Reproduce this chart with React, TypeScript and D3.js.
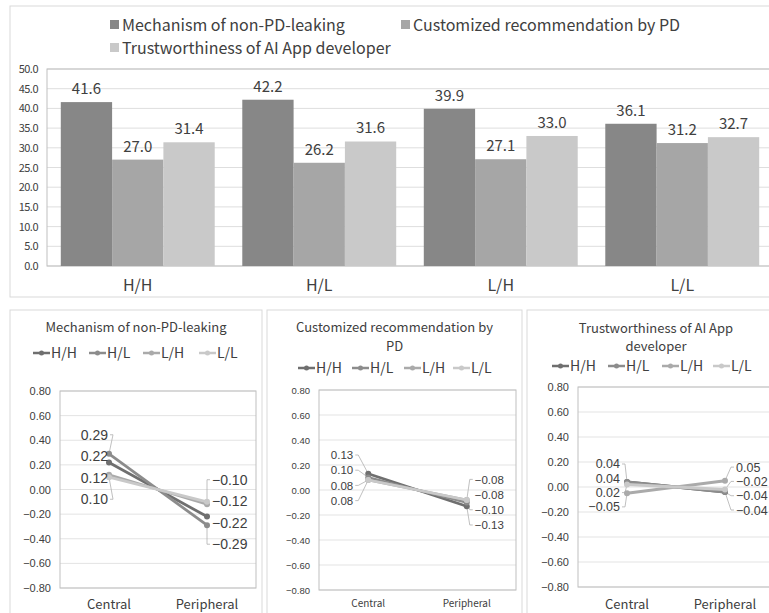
import React from "react";
import * as d3 from "d3";

// ---------- data ----------
const categories = ["H/H", "H/L", "L/H", "L/L"];
const barSeriesNames = [
  "Mechanism of non-PD-leaking",
  "Customized recommendation by PD",
  "Trustworthiness of AI App developer",
];
const mechanismBars = [41.6, 42.2, 39.9, 36.1];
const customizedBars = [27.0, 26.2, 27.1, 31.2];
const trustBars = [31.4, 31.6, 33.0, 32.7];
const barTicks = [0, 5, 10, 15, 20, 25, 30, 35, 40, 45, 50];

const routes = ["Central", "Peripheral"];
const lineSeriesNames = ["H/H", "H/L", "L/H", "L/L"];
const mechHH = [0.22, -0.22];
const mechHL = [0.29, -0.29];
const mechLH = [0.12, -0.12];
const mechLL = [0.1, -0.1];
const custHH = [0.13, -0.13];
const custHL = [0.1, -0.1];
const custLH = [0.08, -0.08];
const custLL = [0.08, -0.08];
const trustHH = [0.04, -0.04];
const trustHL = [0.04, -0.04];
const trustLH = [-0.05, 0.05];
const trustLL = [0.02, -0.02];
const lineTicks = [-0.8, -0.6, -0.4, -0.2, 0, 0.2, 0.4, 0.6, 0.8];
const panelTitles = [
  ["Mechanism of non-PD-leaking"],
  ["Customized recommendation by", "PD"],
  ["Trustworthiness of AI App", "developer"],
];

// ---------- styles ----------
const barColors = ["#878787", "#a6a6a6", "#c9c9c9"];
const lineColors = ["#6f6f6f", "#8c8c8c", "#aaaaaa", "#c9c9c9"];
const textColor = "#404040";
const gothic = "'Noto Sans CJK JP', 'Noto Sans', sans-serif";
const numFont = "'Liberation Sans', Arial, sans-serif";

function BarChart() {
  const left = 47, right = 773, top = 69, bottom = 266;
  const x0 = d3.scaleBand<string>().domain(categories).range([left, right]).paddingInner(0.152).paddingOuter(0.076);
  const seriesValues = [mechanismBars, customizedBars, trustBars];
  const x1 = d3.scaleBand<number>().domain([0, 1, 2]).range([0, x0.bandwidth()]);
  const y = d3.scaleLinear().domain([0, 50]).range([bottom, top]);
  return (
    <g>
      <rect x={10} y={6} width={775} height={291} fill="#fff" stroke="#d9d9d9" />
      {barSeriesNames.map((n, i) => {
        const lx = i === 1 ? 401 : 110;
        const ly = i === 2 ? 48 : 25;
        return (
          <g key={n}>
            <rect x={lx} y={ly - 5} width={9} height={9} fill={barColors[i]} />
            <text x={lx + 12} y={ly + 6} fontSize={16} fontFamily={gothic} fill={textColor}>{n}</text>
          </g>
        );
      })}
      {barTicks.map((t) => (
        <g key={t}>
          <line x1={left} x2={right} y1={y(t)} y2={y(t)} stroke="#dedede" />
          <text x={38} y={y(t) + 4} textAnchor="end" fontSize={11} fontFamily={gothic} fill={textColor} letterSpacing={-0.5}>{t.toFixed(1)}</text>
        </g>
      ))}
      <rect x={left} y={top} width={right - left} height={bottom - top} fill="none" stroke="#bfbfbf" />
      {categories.map((c, ci) => (
        <g key={c} transform={`translate(${x0(c)},0)`}>
          {seriesValues.map((vals, si) => (
            <g key={si}>
              <rect x={x1(si)} y={y(vals[ci])} width={x1.bandwidth()} height={bottom - y(vals[ci])} fill={barColors[si]} />
              <text x={(x1(si) as number) + x1.bandwidth() / 2} y={y(vals[ci]) - 8} textAnchor="middle" fontSize={15} fontFamily={gothic} fill={textColor}>{vals[ci].toFixed(1)}</text>
            </g>
          ))}
          <text x={x0.bandwidth() / 2} y={291} textAnchor="middle" fontSize={16} fontFamily={gothic} fill={textColor}>{c}</text>
        </g>
      ))}
    </g>
  );
}

type PanelCfg = {
  box: [number, number, number];
  titleY: number[];
  titleSize: number;
  legendY: number;
  legendX: number[];
  plot: [number, number, number, number];
  tickSize: number;
  catSize: number;
  catY: number;
  labelSize: number;
  labelStep: number;
  labelGapL: number;
  labelGapR: number;
};

function LinePanel({ values, title, cfg }: { values: number[][]; title: string[]; cfg: PanelCfg }) {
  const [left, right, top, bottom] = cfg.plot;
  const x = d3.scalePoint<string>().domain(routes).range([left, right]).padding(0.5);
  const y = d3.scaleLinear().domain([-0.8, 0.8]).range([bottom, top]);
  const line = d3.line<number>().x((_, i) => x(routes[i]) as number).y((v) => y(v));
  const labels: { x: number; y: number; px: number; py: number; text: string; side: number }[] = [];
  routes.forEach((r, ri) => {
    const order = d3.range(values.length).sort((a, b) => values[b][ri] - values[a][ri]);
    const pys = order.map((s) => y(values[s][ri]));
    const mean = d3.mean(pys) as number;
    const px = x(r) as number;
    order.forEach((s, k) => {
      const ly = mean + (k - (order.length - 1) / 2) * cfg.labelStep;
      labels.push({
        x: ri === 0 ? px - cfg.labelGapL : px + cfg.labelGapR,
        y: ly,
        px,
        py: y(values[s][ri]),
        text: values[s][ri].toFixed(2).replace("-", "−"),
        side: ri,
      });
    });
  });
  return (
    <g>
      <rect x={cfg.box[0]} y={cfg.box[1]} width={cfg.box[2]} height={320} fill="#fff" stroke="#d9d9d9" />
      {title.map((t, i) => (
        <text key={i} x={cfg.box[0] + cfg.box[2] / 2} y={cfg.titleY[i]} textAnchor="middle" fontSize={cfg.titleSize} fontFamily={gothic} fill={textColor}>{t}</text>
      ))}
      {lineSeriesNames.map((n, i) => (
        <g key={n} transform={`translate(${cfg.legendX[i]},${cfg.legendY})`}>
          <line x1={0} x2={17} y1={0} y2={0} stroke={lineColors[i]} strokeWidth={2.5} />
          <circle cx={8.5} cy={0} r={2.5} fill={lineColors[i]} />
          <text x={18} y={5} fontSize={14} fontFamily={gothic} fill={textColor}>{n}</text>
        </g>
      ))}
      {lineTicks.map((t) => (
        <g key={t}>
          <line x1={left} x2={right} y1={y(t)} y2={y(t)} stroke="#e3e3e3" />
          <text x={left - 9} y={y(t) + 4} textAnchor="end" fontSize={cfg.tickSize} fontFamily={numFont} fill={textColor}>{t.toFixed(2).replace("-", "−")}</text>
        </g>
      ))}
      <rect x={left} y={top} width={right - left} height={bottom - top} fill="none" stroke="#bfbfbf" />
      {routes.map((r) => (
        <text key={r} x={x(r)} y={cfg.catY} textAnchor="middle" fontSize={cfg.catSize} fontFamily={gothic} fill={textColor}>{r}</text>
      ))}
      {labels.map((l, i) =>
        Math.abs(l.y - l.py) > 7 || (l.side === 0 ? cfg.labelGapL : cfg.labelGapR) > 8 ? (
          <polyline
            key={"ll" + i}
            points={`${l.side === 0 ? l.x + 2 : l.x - 2},${l.y} ${l.side === 0 ? l.x + 5 : l.x - 5},${l.y} ${l.px},${l.py}`}
            fill="none"
            stroke="#b0b0b0"
            strokeWidth={0.8}
          />
        ) : null
      )}
      {values.map((v, i) => (
        <g key={i}>
          <path d={line(v) as string} fill="none" stroke={lineColors[i]} strokeWidth={2.8} />
          {v.map((val, j) => (
            <circle key={j} cx={x(routes[j])} cy={y(val)} r={3} fill={lineColors[i]} />
          ))}
        </g>
      ))}
      {labels.map((l, i) => (
        <text key={"t" + i} x={l.x} y={l.y + cfg.labelSize * 0.36} textAnchor={l.side === 0 ? "end" : "start"} fontSize={cfg.labelSize} fontFamily={numFont} fill={textColor}>{l.text}</text>
      ))}
    </g>
  );
}

export default function App() {
  const panels: { values: number[][]; cfg: PanelCfg }[] = [
    {
      values: [mechHH, mechHL, mechLH, mechLL],
      cfg: {
        box: [10, 310, 252], titleY: [332], titleSize: 13, legendY: 353, legendX: [33, 89, 143, 199],
        plot: [60, 256, 391, 588], tickSize: 11, catSize: 13, catY: 609, labelSize: 14, labelStep: 21.5, labelGapL: 1, labelGapR: 5,
      },
    },
    {
      values: [custHH, custHL, custLH, custLL],
      cfg: {
        box: [267, 310, 255], titleY: [332, 351], titleSize: 13, legendY: 368, legendX: [298, 352, 404, 453],
        plot: [319, 516, 390, 590], tickSize: 9.5, catSize: 10, catY: 607, labelSize: 11.5, labelStep: 15.2, labelGapL: 15, labelGapR: 8,
      },
    },
    {
      values: [trustHH, trustHL, trustLH, trustLL],
      cfg: {
        box: [527, 310, 258], titleY: [333, 351], titleSize: 13, legendY: 366, legendX: [552, 608, 662, 713],
        plot: [578, 774, 387, 587], tickSize: 11, catSize: 13, catY: 609, labelSize: 12.5, labelStep: 14.3, labelGapL: 7, labelGapR: 11,
      },
    },
  ];
  return (
    <svg width={769} height={613} style={{ position: "absolute", left: 0, top: 0, background: "#fff" }}>
      <rect x={0} y={0} width={769} height={613} fill="#fff" />
      <BarChart />
      {panels.map((p, i) => (
        <LinePanel key={i} values={p.values} title={panelTitles[i]} cfg={p.cfg} />
      ))}
    </svg>
  );
}
